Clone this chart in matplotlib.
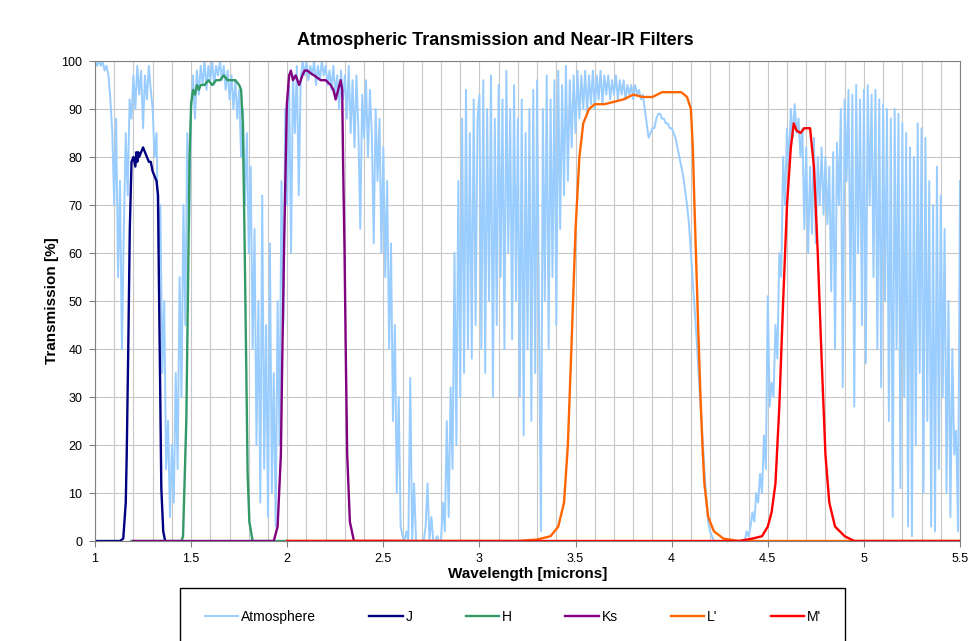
import numpy as np
import matplotlib.pyplot as plt
from matplotlib.patches import Rectangle
from matplotlib.ticker import MultipleLocator

# atmospheric transmission [%], one value every 0.01 micron from 1.00 to 5.50
atm_trans = [
    100, 99, 100, 99, 100, 98, 99, 97, 92, 85,     # 1.0
    70, 88, 55, 75, 40, 65, 85, 72, 92, 88,        # 1.1
    97, 90, 99, 93, 98, 86, 97, 92, 99, 94,        # 1.2
    90, 80, 85, 60, 70, 35, 50, 15, 25, 5,         # 1.3
    20, 8, 35, 15, 55, 30, 70, 45, 85, 65,         # 1.4
    90, 97, 88, 98, 93, 99, 95, 100, 94, 99,       # 1.5
    96, 100, 95, 99, 97, 100, 96, 99, 94, 98,      # 1.6
    92, 97, 90, 96, 88, 94, 80, 90, 70, 85,        # 1.7
    60, 78, 40, 65, 20, 50, 8, 72, 15, 45,         # 1.8
    5, 62, 10, 35, 3, 50, 20, 75, 45, 90,          # 1.9
    70, 95, 60, 97, 85, 99, 72, 96, 100, 97,       # 2.0
    100, 96, 99, 97, 100, 95, 99, 96, 100, 97,     # 2.1
    99, 95, 98, 94, 99, 93, 97, 90, 98, 92,        # 2.2
    97, 88, 99, 85, 96, 82, 97, 86, 65, 93,        # 2.3
    84, 96, 80, 94, 85, 62, 90, 75, 88, 60,        # 2.4
    82, 55, 75, 40, 62, 25, 45, 10, 30, 3,         # 2.5
    1, 0, 2, 0, 34, 0, 12, 0, 0, 0,                # 2.6
    0, 0, 3, 12, 0, 5, 0, 0, 1, 0,                 # 2.7
    0, 8, 2, 25, 5, 32, 15, 60, 20, 75,            # 2.8
    30, 88, 35, 94, 40, 85, 38, 92, 45, 88,        # 2.9
    93, 40, 96, 35, 90, 50, 97, 30, 88, 45,        # 3.0
    95, 55, 92, 40, 98, 60, 90, 42, 95, 50,        # 3.1
    88, 30, 92, 22, 85, 40, 90, 25, 94, 35,        # 3.2
    96, 45, 2, 90, 50, 97, 40, 92, 55, 96,         # 3.3
    45, 98, 65, 95, 72, 99, 75, 96, 82, 97,        # 3.4
    85, 98, 88, 97, 90, 98, 89, 97, 91, 98,        # 3.5
    90, 97, 92, 98, 91, 97, 93, 97, 92, 96,        # 3.6
    93, 97, 92, 96, 93, 96, 92, 95, 93, 95,        # 3.7
    92, 95, 93, 94, 92, 93, 90, 87, 84, 85,        # 3.8
    86, 86, 88, 89, 89, 88, 88, 87, 87, 86,        # 3.9
    86, 85, 84, 82, 80, 78, 76, 73, 70, 66,        # 4.0
    60, 54, 48, 42, 35, 28, 22, 15, 9, 4,          # 4.1
    2, 1, 0, 0, 0, 0, 0, 0, 0, 0,                  # 4.2
    0, 0, 0, 0, 0, 0, 0, 0, 0, 2,                  # 4.3
    1, 3, 6, 4, 10, 8, 14, 10, 22, 15,             # 4.4
    51, 28, 33, 30, 45, 38, 60, 55, 80, 70,        # 4.5
    86, 78, 90, 84, 91, 85, 88, 80, 86, 65,        # 4.6
    82, 60, 78, 64, 84, 62, 80, 70, 82, 68,        # 4.7
    80, 66, 78, 52, 81, 40, 83, 70, 90, 32,        # 4.8
    92, 75, 94, 50, 93, 28, 95, 60, 92, 45,        # 4.9
    94, 37, 95, 70, 93, 55, 94, 40, 92, 32,        # 5.0
    91, 50, 90, 25, 88, 5, 90, 40, 89, 11,         # 5.1
    87, 30, 85, 3, 82, 1, 80, 20, 87, 35,          # 5.2
    86, 10, 84, 25, 75, 3, 70, 2, 78, 15,          # 5.3
    72, 30, 65, 10, 50, 5, 40, 18, 23, 2,          # 5.4
    75,                                            # 5.5
]

# filter curves: wavelength [microns] and transmission [%]
j_wl = [1.00, 1.13, 1.147, 1.16, 1.165, 1.173, 1.181, 1.19, 1.20, 1.21, 1.215, 1.22,
        1.225, 1.23, 1.24, 1.25, 1.26, 1.27, 1.28, 1.29, 1.30, 1.31, 1.32, 1.328,
        1.332, 1.339, 1.345, 1.355, 1.365]
j_tr = [0, 0, 0.5, 8, 18, 40, 65, 79, 80, 78, 81, 79, 81, 80, 81, 82, 81, 80, 79, 79,
        77, 76, 75, 72, 56, 32, 11, 2, 0]

h_wl = [1.19, 1.45, 1.458, 1.475, 1.484, 1.492, 1.50, 1.51, 1.52, 1.53, 1.54, 1.55,
        1.57, 1.59, 1.61, 1.63, 1.65, 1.67, 1.69, 1.71, 1.73, 1.75, 1.76, 1.769, 1.777,
        1.786, 1.794, 1.803, 1.82, 2.00]
h_tr = [0, 0, 1, 25, 53, 80, 91, 94, 93, 95, 94, 95, 95, 96, 95, 96, 96, 97, 96, 96,
        96, 95, 94, 87, 66, 39, 14, 4, 0, 0]

ks_wl = [1.20, 1.93, 1.95, 1.967, 1.975, 1.984, 1.998, 2.00, 2.01, 2.019, 2.03, 2.044,
         2.062, 2.079, 2.09, 2.105, 2.12, 2.14, 2.174, 2.20, 2.226, 2.24, 2.252, 2.265,
         2.278, 2.286, 2.291, 2.298, 2.305, 2.312, 2.326, 2.347, 2.60]
ks_tr = [0, 0, 3, 18, 40, 62, 91, 92, 97, 98, 96, 97, 95, 97, 98, 98, 97.5, 97, 96, 96,
         95, 94, 92, 94, 96, 94, 78, 61, 38, 18, 4, 0, 0]

lp_wl = [2.00, 3.20, 3.30, 3.37, 3.41, 3.44, 3.46, 3.48, 3.50, 3.52, 3.54, 3.57, 3.60,
         3.65, 3.70, 3.75, 3.80, 3.85, 3.90, 3.95, 4.00, 4.05, 4.08, 4.10, 4.11, 4.12,
         4.13, 4.14, 4.15, 4.16, 4.17, 4.19, 4.22, 4.27, 4.35, 5.50]
lp_tr = [0, 0, 0.3, 1, 3, 8, 20, 42, 65, 80, 87, 90, 91, 91, 91.5, 92, 93, 92.5, 92.5,
         93.5, 93.5, 93.5, 92.5, 90, 82, 68, 55, 42, 30, 20, 12, 5, 2, 0.5, 0, 0]

mp_wl = [2.00, 4.35, 4.42, 4.47, 4.50, 4.52, 4.54, 4.56, 4.58, 4.60, 4.62, 4.635, 4.65,
         4.67, 4.69, 4.72, 4.74, 4.76, 4.78, 4.80, 4.82, 4.85, 4.90, 4.95, 5.50]
mp_tr = [0, 0, 0.5, 1, 3, 6, 12, 28, 50, 70, 82, 87, 85.5, 85, 86, 86, 78, 60, 38, 18,
         8, 3, 1, 0, 0]


def main():
    plt.rcParams['font.family'] = ['Liberation Sans', 'DejaVu Sans']

    fig = plt.figure(figsize=(9.69, 6.41), dpi=100)
    ax = fig.add_axes([95 / 969, 100 / 641, 865 / 969, 480 / 641])

    atm_wl = np.linspace(1.0, 5.5, len(atm_trans))
    ax.plot(atm_wl, atm_trans, color='#99ccff', lw=1.4, label='Atmosphere')
    ax.plot(j_wl, j_tr, color='#000080', lw=1.7, label='J')
    ax.plot(h_wl, h_tr, color='#339966', lw=1.7, label='H')
    ax.plot(ks_wl, ks_tr, color='#800080', lw=1.7, label='Ks')
    ax.plot(lp_wl, lp_tr, color='#ff6600', lw=1.7, label="L'")
    ax.plot(mp_wl, mp_tr, color='#ff0000', lw=1.7, label="M'")

    ax.set_xlim(1, 5.5)
    ax.set_ylim(0, 100)
    ax.xaxis.set_major_locator(MultipleLocator(0.5))
    ax.xaxis.set_minor_locator(MultipleLocator(0.1))
    ax.yaxis.set_major_locator(MultipleLocator(10))
    ax.xaxis.set_major_formatter(lambda v, pos: f'{v:g}')
    ax.grid(which='both', axis='x', color='#c8c8c8', lw=0.8)
    ax.grid(which='major', axis='y', color='#c8c8c8', lw=0.8)
    ax.set_axisbelow(True)
    ax.tick_params(which='minor', length=0)
    ax.tick_params(which='major', direction='out', length=4, width=0.8,
                   labelsize=9, color='#808080', pad=5)
    for s in ax.spines.values():
        s.set_color('#808080')
        s.set_linewidth(0.8)

    fig.text(0.511, 0.937, 'Atmospheric Transmission and Near-IR Filters',
             ha='center', va='center', fontsize=13, fontweight='bold')
    ax.set_xlabel('Wavelength [microns]', fontsize=11, fontweight='bold', labelpad=1)
    ax.set_ylabel('Transmission [%]', fontsize=11, fontweight='bold', labelpad=2)

    fig.patches.append(Rectangle((180 / 969, -0.05), 665 / 969, 53 / 641 + 0.05,
                                 transform=fig.transFigure, fill=False,
                                 edgecolor='black', lw=1))
    fig.legend(loc='center', bbox_to_anchor=(513 / 969, 24 / 641), ncol=6,
               frameon=False, fontsize=10, handlelength=2.4, handletextpad=0.2,
               columnspacing=3.85)

    fig.savefig('out.png', dpi=100)


if __name__ == '__main__':
    main()
